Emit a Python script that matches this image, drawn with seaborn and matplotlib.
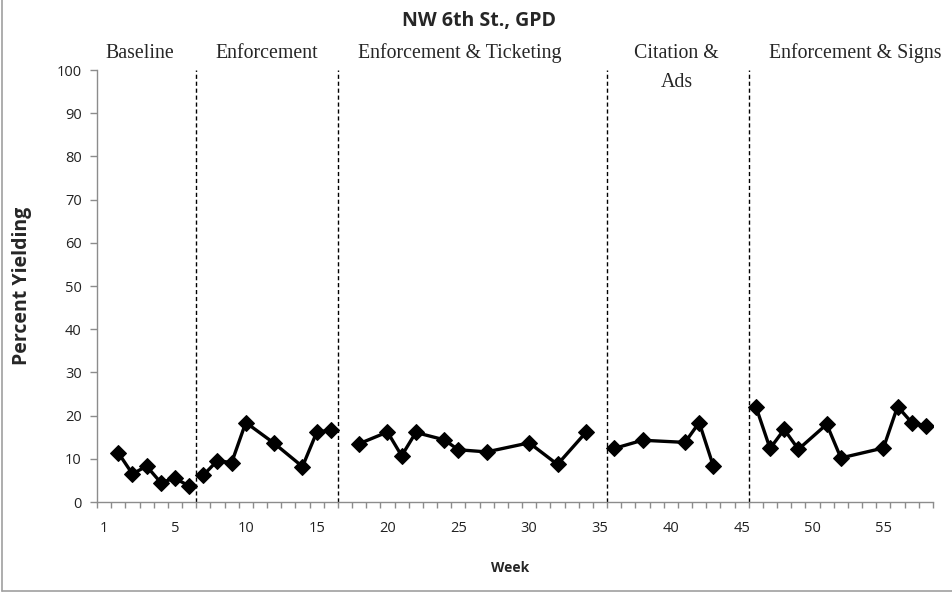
import pandas as pd
import seaborn as sns
import matplotlib.pyplot as plt
from matplotlib.lines import Line2D
from matplotlib.ticker import MultipleLocator
import matplotlib.transforms as mtransforms

# -----------------------------
# Data
# -----------------------------
weeks = [1, 2, 3, 4, 5, 6,
         7, 8, 9, 10, 12, 14, 15, 16,
         18, 20, 21, 22, 24, 25, 27, 30, 32, 34,
         36, 38, 41, 42, 43,
         46, 47, 48, 49, 51, 52, 55, 56, 57, 58]
percent_yielding = [11.4, 6.5, 8.3, 4.5, 5.5, 3.7,
                    6.2, 9.6, 9.1, 18.4, 13.6, 8.2, 16.1, 16.7,
                    13.5, 16.2, 10.7, 16.1, 14.4, 12.1, 11.6, 13.7, 8.7, 16.1,
                    12.4, 14.3, 13.8, 18.4, 8.3,
                    22.1, 12.4, 16.8, 12.2, 18.0, 10.2, 12.5, 22.1, 18.4, 17.6]
phase = ([1] * 6 + [2] * 8 + [3] * 10 + [4] * 5 + [5] * 10)

phase_names = ["Baseline", "Enforcement", "Enforcement & Ticketing",
               "Citation &\nAds", "Enforcement & Signs"]
phase_breaks = [6.5, 16.5, 35.5, 45.5]

xtick_pos = [0, 5, 10, 15, 20, 25, 30, 35, 40, 45, 50, 55]
xtick_labels = ["1", "5", "10", "15", "20", "25", "30", "35", "40", "45", "50", "55"]

df = pd.DataFrame({"Week": weeks, "Pct": percent_yielding, "Phase": phase})

# -----------------------------
# Styling
# -----------------------------
sns.set_style("white")
plt.rcParams['font.family'] = ['Open Sans', 'DejaVu Sans']
grey = "#8c8c8c"

fig = plt.figure(figsize=(9.53, 6.01), dpi=100)
ax = fig.add_axes([0.1018, 0.1647, 0.8772, 0.7188])

sns.lineplot(data=df, x="Week", y="Pct", units="Phase", estimator=None,
             color="black", linewidth=2.4, marker="D", markersize=8,
             markeredgecolor="black", ax=ax)

# phase change lines
for b in phase_breaks:
    ax.plot([b, b], [0, 100], color="black", linestyle=(0, (3, 2)), linewidth=1.0)

ax.set_xlim(-0.5, 58.5)
ax.set_ylim(0, 100)
ax.set_yticks(range(0, 101, 10))
ax.set_xticks(xtick_pos)
ax.set_xticklabels(xtick_labels)
ax.xaxis.set_minor_locator(MultipleLocator(1, offset=0.5))
ax.tick_params(axis="x", which="major", length=0, pad=14, labelsize=10.5, labelcolor="#222222")
ax.tick_params(axis="x", which="minor", length=4, width=1, color=grey, direction="out", bottom=True)
ax.tick_params(axis="y", which="major", length=5, width=1, color=grey, direction="out",
               left=True, pad=6, labelsize=10.5, labelcolor="#222222")

for s in ["top", "right"]:
    ax.spines[s].set_visible(False)
for s in ["left", "bottom"]:
    ax.spines[s].set_color(grey)
    ax.spines[s].set_linewidth(1.0)

ax.set_xlabel("Week", fontsize=10, fontweight="bold")
ax.set_ylabel("Percent Yielding", fontsize=14, fontweight="bold")
ax.xaxis.set_label_coords(0.494, -0.137)
ax.yaxis.set_label_coords(-0.078, 0.5)

# phase labels
trans = mtransforms.blended_transform_factory(ax.transData, ax.transAxes)
label_x = [2.5, 11.5, 25.1, 40.4, 53.0]
label_y = [1.039, 1.039, 1.039, 1.005, 1.039]
for name, lx, ly in zip(phase_names, label_x, label_y):
    ax.text(lx, ly, name, transform=trans, ha="center", va="center",
            fontsize=14.3, family="Liberation Serif", linespacing=1.75)

fig.text(0.503, 0.965, "NW 6th St., GPD", ha="center", va="center",
         fontsize=14, fontweight="bold")

# chart-area border (left and bottom edges visible)
fig.add_artist(Line2D([2.5 / 953, 2.5 / 953], [10 / 601, 1], color="#a0a0a0", linewidth=1.2))
fig.add_artist(Line2D([2.5 / 953, 1], [10 / 601, 10 / 601], color="#a0a0a0", linewidth=1.2))

fig.savefig("out.png", dpi=100)
plt.close(fig)
